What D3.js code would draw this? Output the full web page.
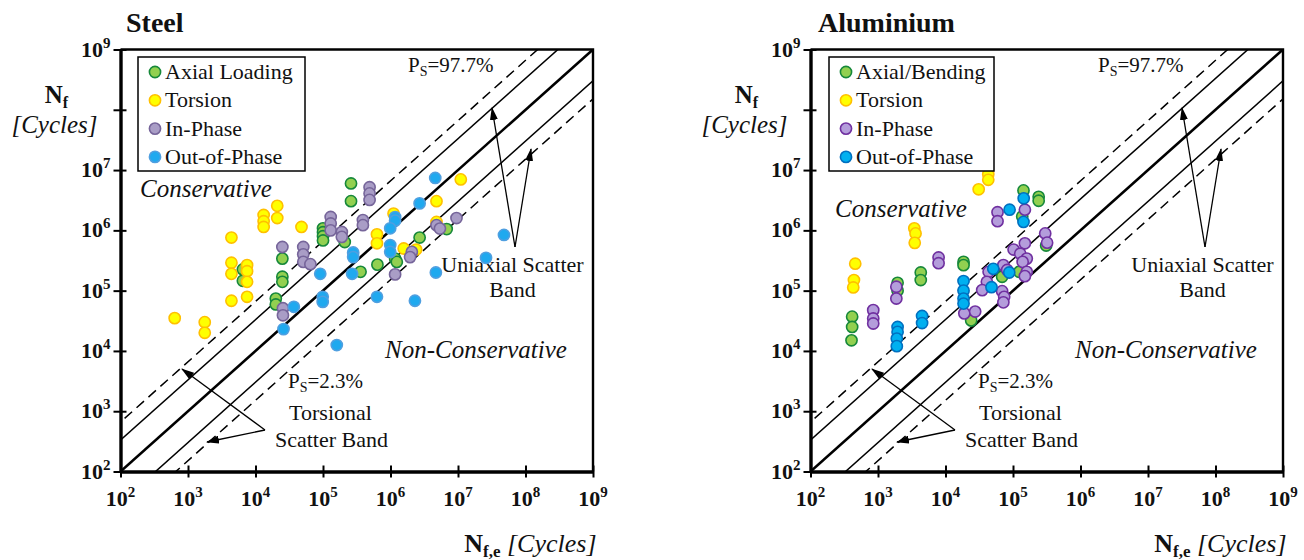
<!DOCTYPE html>
<html lang="en">
<head>
<meta charset="utf-8" />
<title>Multiaxial fatigue - Steel / Aluminium</title>
<script src="https://cdn.jsdelivr.net/npm/d3@7"></script>
<style>
  body { margin: 0; background: #fff; }
  svg text { font-family: "Liberation Serif", "Times New Roman", serif; fill: #111; }
</style>
</head>
<body>
<svg id="chart" width="1304" height="560"></svg>
<script>
// [Nf,e , Nf] in cycles
var steelAxial = [[6.5e3,2.25e5],[6.5e3,1.46e5],[2.6e5,6.0e6],[2.6e5,3.05e6],[1.0e5,1.08e6],[1.0e5,9.3e5],
  [1.0e5,8.0e5],[1.0e5,6.8e5],[2.1e5,6.4e5],[2.5e4,3.4e5],[2.5e4,1.7e5],[2.5e4,1.4e5],[2.0e4,7.4e4],[2.0e4,5.9e4],
  [3.6e5,2.05e5],[6.4e5,2.7e5],[2.7e6,7.6e5],[1.17e6,3.4e5],[1.24e6,3.0e5],[6.8e6,1.05e6]];
var steelTorsion = [[635,3.5e4],[1.77e3,3.0e4],[1.77e3,2.0e4],[4.4e3,7.6e5],[4.4e3,2.9e5],[4.4e3,1.9e5],[4.4e3,6.8e4],
  [7.5e3,2.65e5],[7.5e3,2.1e5],[7.5e3,1.4e5],[7.5e3,7.9e4],[1.32e4,1.8e6],[1.32e4,1.42e6],[1.32e4,1.14e6],
  [2.1e4,2.55e6],[2.1e4,1.6e6],[4.8e4,1.14e6],[1.1e7,7.0e6],[4.8e6,3.05e6],[1.11e6,1.9e6],[4.8e6,1.38e6],
  [6.3e5,8.6e5],[6.3e5,6.1e5],[1.57e6,5.0e5],[2.4e6,4.8e5]];
var steelInPhase = [[2.5e4,5.3e5],[5.1e4,5.3e5],[5.1e4,4.0e5],[5.1e4,3.0e5],[6.5e4,2.75e5],[1.3e5,1.67e6],[1.3e5,1.3e6],
  [1.3e5,1.0e6],[1.9e5,9.4e5],[1.9e5,7.8e5],[3.9e5,1.48e6],[3.9e5,1.22e6],[4.9e5,5.2e6],[4.9e5,4.1e6],[4.9e5,3.2e6],
  [2.55e4,5.1e4],[2.55e4,3.9e4],[9.5e6,1.6e6],[4.8e6,1.22e6],[5.4e6,1.07e6],[2.07e6,4.4e5],[1.95e6,3.6e5],[1.17e6,1.86e5]];
var steelOutPhase = [[9.1e4,1.9e5],[3.7e4,5.4e4],[2.6e4,2.3e4],[9.9e4,7.9e4],[9.9e4,6.5e4],[1.6e5,1.25e4],[2.7e5,1.9e5],
  [2.8e5,4.3e5],[2.8e5,3.6e5],[6.3e5,7.9e4],[2.3e6,6.8e4],[4.7e6,2.0e5],[2.6e7,3.5e5],[4.8e7,8.4e5],[4.6e6,7.4e6],
  [2.7e6,2.8e6],[1.17e6,1.66e6],[1.17e6,1.45e6],[9.9e5,1.08e6],[9.9e5,5.7e5],[9.9e5,4.4e5]];

var aluAxial = [[414,3.7e4],[414,2.5e4],[405,1.5e4],[1.95e3,1.35e5],[1.95e3,1.0e5],[4.3e3,2.0e5],[4.3e3,1.5e5],
  [1.85e4,3.0e5],[1.85e4,2.65e5],[1.43e5,4.6e6],[2.4e5,3.6e6],[2.4e5,3.1e6],[1.37e5,1.7e6],[6.9e4,1.7e5],
  [2.4e4,3.2e4],[1.24e5,2.05e5],[3.1e5,5.6e5]];
var aluTorsion = [[460,2.8e5],[440,1.5e5],[430,1.13e5],[3.45e3,1.08e6],[3.6e3,8.9e5],[3.5e3,6.2e5],[3.1e4,4.8e6],
  [4.3e4,8.5e6],[4.3e4,6.9e6]];
var aluInPhase = [[850,4.75e4],[850,3.45e4],[850,2.85e4],[1.87e3,1.16e5],[1.87e3,7.4e4],[7.9e3,3.55e5],[7.9e3,2.85e5],
  [5.9e4,2.0e6],[5.9e4,1.42e6],[1.5e5,2.2e6],[3.0e5,8.9e5],[3.2e5,6.25e5],[1.5e5,6.1e5],[1.02e5,4.8e5],[1.28e5,4.1e5],
  [1.6e5,3.4e5],[1.39e5,3.0e5],[1.6e5,2.05e5],[1.5e5,1.74e5],[7.2e4,2.65e5],[8.2e4,2.2e5],[4.35e4,2.05e5],
  [4.1e4,1.4e5],[3.5e4,1.02e5],[6.9e4,9.8e4],[7.4e4,7.9e4],[7.2e4,6.4e4],[1.9e4,4.2e4],[2.75e4,4.5e4]];
var aluOutPhase = [[1.44e5,3.4e6],[8.9e4,2.2e6],[1.43e5,1.38e6],[1.85e4,1.44e5],[1.85e4,1.0e5],[1.85e4,7.4e4],
  [1.85e4,6.1e4],[5.1e4,2.3e5],[8.8e4,2.0e5],[4.8e4,1.14e5],[4.5e3,3.8e4],[4.5e3,2.9e4],[1.95e3,2.5e4],
  [1.95e3,2.07e4],[1.9e3,1.6e4],[1.9e3,1.2e4]];

var exponents = [2, 3, 4, 5, 6, 7, 8, 9];
var yLabelExponents = [2, 3, 4, 5, 6, 7, 9];   // 10^8 sits under the axis title
var steelLabels = ['Axial Loading', 'Torsion', 'In-Phase', 'Out-of-Phase'];
var aluLabels = ['Axial/Bending', 'Torsion', 'In-Phase', 'Out-of-Phase'];
// scatter band lines, offset from Nf = Nf,e in decades
var bandOffsets = [0.82, 0.52, 0, -0.52, -0.82];

var svg = d3.select('#chart');
var defs = svg.append('defs');
defs.append('marker')
    .attr('id', 'arrow')
    .attr('viewBox', '0 0 13 8')
    .attr('refX', 12).attr('refY', 4)
    .attr('markerWidth', 13).attr('markerHeight', 8)
    .attr('markerUnits', 'userSpaceOnUse')
    .attr('orient', 'auto')
  .append('path')
    .attr('d', 'M0,0 L13,4 L0,8 z')
    .attr('fill', '#000');

var majors = exponents.map(function(e) { return Math.pow(10, e); });
var minors = [];
exponents.slice(0, -1).forEach(function(e) {
  for (var m = 2; m <= 9; m++) minors.push(m * Math.pow(10, e));
});

function drawPanel(cfg) {
  var x = d3.scaleLog().domain([1e2, 1e9]).range([cfg.x0, cfg.x0 + 472.5]);
  var y = d3.scaleLog().domain([1e2, 1e9]).range([471.5, 49.5]);
  var g = svg.append('g');
  var x0 = cfg.x0;

  g.append('clipPath').attr('id', 'clip' + cfg.id)
    .append('rect')
    .attr('x', x.range()[0]).attr('y', y.range()[1])
    .attr('width', x.range()[1] - x.range()[0])
    .attr('height', y.range()[0] - y.range()[1]);

  // scatter band lines
  var line = d3.line().x(function(d) { return x(d[0]); }).y(function(d) { return y(d[1]); });
  g.append('g').attr('clip-path', 'url(#clip' + cfg.id + ')')
    .selectAll('path')
    .data(bandOffsets)
    .enter().append('path')
    .attr('d', function(k) {
      var f = Math.pow(10, k);
      return line([[1e1, 1e1 * f], [1e10, 1e10 * f]]);
    })
    .attr('fill', 'none')
    .attr('stroke', '#000')
    .attr('stroke-width', function(k) { return k === 0 ? 2.6 : 1.5; })
    .attr('stroke-dasharray', function(k) { return Math.abs(k) > 0.7 ? '10,6' : null; });

  // frame top/right
  g.append('path')
    .attr('d', 'M' + x.range()[0] + ',' + y.range()[1] + 'H' + x.range()[1] + 'V' + y.range()[0])
    .attr('fill', 'none').attr('stroke', '#000').attr('stroke-width', 2.4);

  // axes
  var xAxis = g.append('g').attr('transform', 'translate(0,' + y.range()[0] + ')');
  xAxis.call(d3.axisBottom(x).tickValues(minors).tickSizeInner(-5).tickSizeOuter(0).tickFormat(''));
  xAxis.call(d3.axisBottom(x).tickValues(majors).tickSizeInner(6).tickSizeOuter(0).tickFormat(''));
  xAxis.selectAll('.tick line').filter(function(d) { return majors.indexOf(d) >= 0; }).attr('y1', -6);
  var yAxis = g.append('g').attr('transform', 'translate(' + x.range()[0] + ',0)');
  yAxis.call(d3.axisLeft(y).tickValues(minors).tickSizeInner(-5).tickSizeOuter(0).tickFormat(''));
  yAxis.call(d3.axisLeft(y).tickValues(majors).tickSizeInner(7).tickSizeOuter(0).tickFormat(''));
  yAxis.selectAll('.tick line').filter(function(d) { return majors.indexOf(d) >= 0; }).attr('x1', 6);
  g.selectAll('.domain').attr('stroke', '#000').attr('stroke-width', 3.4);
  g.selectAll('.tick line').attr('stroke', '#000').attr('stroke-width', 2);
  g.selectAll('.tick text').remove();

  // tick labels
  exponents.forEach(function(e) {
    var v = Math.pow(10, e);
    var tx = g.append('text').attr('x', x(v)).attr('y', 506)
      .attr('text-anchor', 'middle').attr('font-size', 22).attr('font-weight', 'bold');
    tx.append('tspan').text('10');
    tx.append('tspan').attr('dy', -9).attr('font-size', 15).text(e);
  });
  yLabelExponents.forEach(function(e) {
    var v = Math.pow(10, e);
    var ty = g.append('text').attr('x', x0 - 10).attr('y', y(v) + 7)
      .attr('text-anchor', 'end').attr('font-size', 22).attr('font-weight', 'bold');
    ty.append('tspan').text('10');
    ty.append('tspan').attr('dy', -9).attr('font-size', 15).text(e);
  });

  // axis titles
  var yt = g.append('text').attr('x', x0 - 64).attr('y', 103).attr('text-anchor', 'middle')
    .attr('font-size', 25).attr('font-weight', 'bold');
  yt.append('tspan').text('N');
  yt.append('tspan').attr('font-size', 16).attr('dy', 5).text('f');
  g.append('text').attr('x', x0 - 66).attr('y', 133).attr('text-anchor', 'middle')
    .attr('font-size', 25).attr('font-style', 'italic').text('[Cycles]');
  var xt = g.append('text').attr('x', x0 + 476).attr('y', 552).attr('text-anchor', 'end').attr('font-size', 26);
  xt.append('tspan').attr('font-weight', 'bold').text('N');
  xt.append('tspan').attr('font-weight', 'bold').attr('font-size', 17).attr('dy', 5).text('f,e');
  xt.append('tspan').attr('font-style', 'italic').attr('dy', -5).text(' [Cycles]');

  // title
  g.append('text').attr('x', cfg.titleX).attr('y', 32).attr('font-size', 28)
    .attr('font-weight', 'bold').text(cfg.title);

  // annotations
  function psLabel(px, py, val) {
    var t = g.append('text').attr('x', x0 + px).attr('y', py).attr('font-size', 21);
    t.append('tspan').text('P');
    t.append('tspan').attr('font-size', 14).attr('dy', 4).text('S');
    t.append('tspan').attr('dy', -4).text('=' + val);
  }
  psLabel(287.5, 72, '97.7%');
  psLabel(167.5, 388, '2.3%');
  g.append('text').attr('x', x0 + 392).attr('y', 272).attr('text-anchor', 'middle')
    .attr('font-size', 22).text('Uniaxial Scatter');
  g.append('text').attr('x', x0 + 392).attr('y', 297).attr('text-anchor', 'middle')
    .attr('font-size', 22).text('Band');
  g.append('text').attr('x', x0 + 210).attr('y', 420).attr('text-anchor', 'middle')
    .attr('font-size', 22).text('Torsional');
  g.append('text').attr('x', x0 + 211).attr('y', 447).attr('text-anchor', 'middle')
    .attr('font-size', 22).text('Scatter Band');
  g.append('text').attr('x', x0 + 264.5).attr('y', 358).attr('font-size', 25)
    .attr('font-style', 'italic').text('Non-Conservative');
  g.append('text').attr('x', cfg.consX).attr('y', cfg.consY).attr('font-size', 25)
    .attr('font-style', 'italic').text('Conservative');

  var arrows = [[394.5, 247, 371.5, 108], [394.5, 247, 410.5, 149],
                [144.5, 430, 61.5, 369], [144.5, 430, 86.5, 442]];
  g.selectAll('line.arrow').data(arrows).enter().append('line')
    .attr('class', 'arrow')
    .attr('x1', function(d) { return x0 + d[0]; }).attr('y1', function(d) { return d[1]; })
    .attr('x2', function(d) { return x0 + d[2]; }).attr('y2', function(d) { return d[3]; })
    .attr('stroke', '#000').attr('stroke-width', 1.3)
    .attr('marker-end', 'url(#arrow)');

  // points
  cfg.series.forEach(function(s) {
    g.append('g').selectAll('circle')
      .data(s.data)
      .enter().append('circle')
      .attr('cx', function(d) { return x(d[0]); })
      .attr('cy', function(d) { return y(d[1]); })
      .attr('r', 5.6)
      .attr('fill', s.fill)
      .attr('stroke', s.stroke)
      .attr('stroke-width', 1.6);
  });

  // legend
  var lg = g.append('g').attr('transform', 'translate(' + cfg.legendX + ',57)');
  lg.append('rect').attr('width', cfg.legendW).attr('height', 114)
    .attr('fill', '#fff').attr('stroke', '#000').attr('stroke-width', 1.5);
  cfg.series.forEach(function(s, i) {
    lg.append('circle').attr('cx', 17).attr('cy', 15 + i * 28.3).attr('r', 5.6)
      .attr('fill', s.fill).attr('stroke', s.stroke).attr('stroke-width', 1.6);
    lg.append('text').attr('x', 27).attr('y', 22 + i * 28.3).attr('font-size', 22).text(cfg.labels[i]);
  });
}

drawPanel({
  id: 'steel', x0: 120.5, title: 'Steel', titleX: 126,
  legendX: 138, legendW: 167, labels: steelLabels, consX: 140, consY: 197,
  series: [
    { data: steelAxial, fill: '#92d050', stroke: '#16883a' },
    { data: steelTorsion, fill: '#ffff00', stroke: '#ffc000' },
    { data: steelInPhase, fill: '#a99dc6', stroke: '#76659a' },
    { data: steelOutPhase, fill: '#1fa9ef', stroke: '#4f9fe0' }
  ]
});

drawPanel({
  id: 'alu', x0: 810.5, title: 'Aluminium', titleX: 818,
  legendX: 829, legendW: 165, labels: aluLabels, consX: 835, consY: 217,
  series: [
    { data: aluAxial, fill: '#92d050', stroke: '#16883a' },
    { data: aluTorsion, fill: '#ffff00', stroke: '#ffc000' },
    { data: aluInPhase, fill: '#b49ddb', stroke: '#7030a0' },
    { data: aluOutPhase, fill: '#00b0f0', stroke: '#0070c0' }
  ]
});
</script>
</body>
</html>
